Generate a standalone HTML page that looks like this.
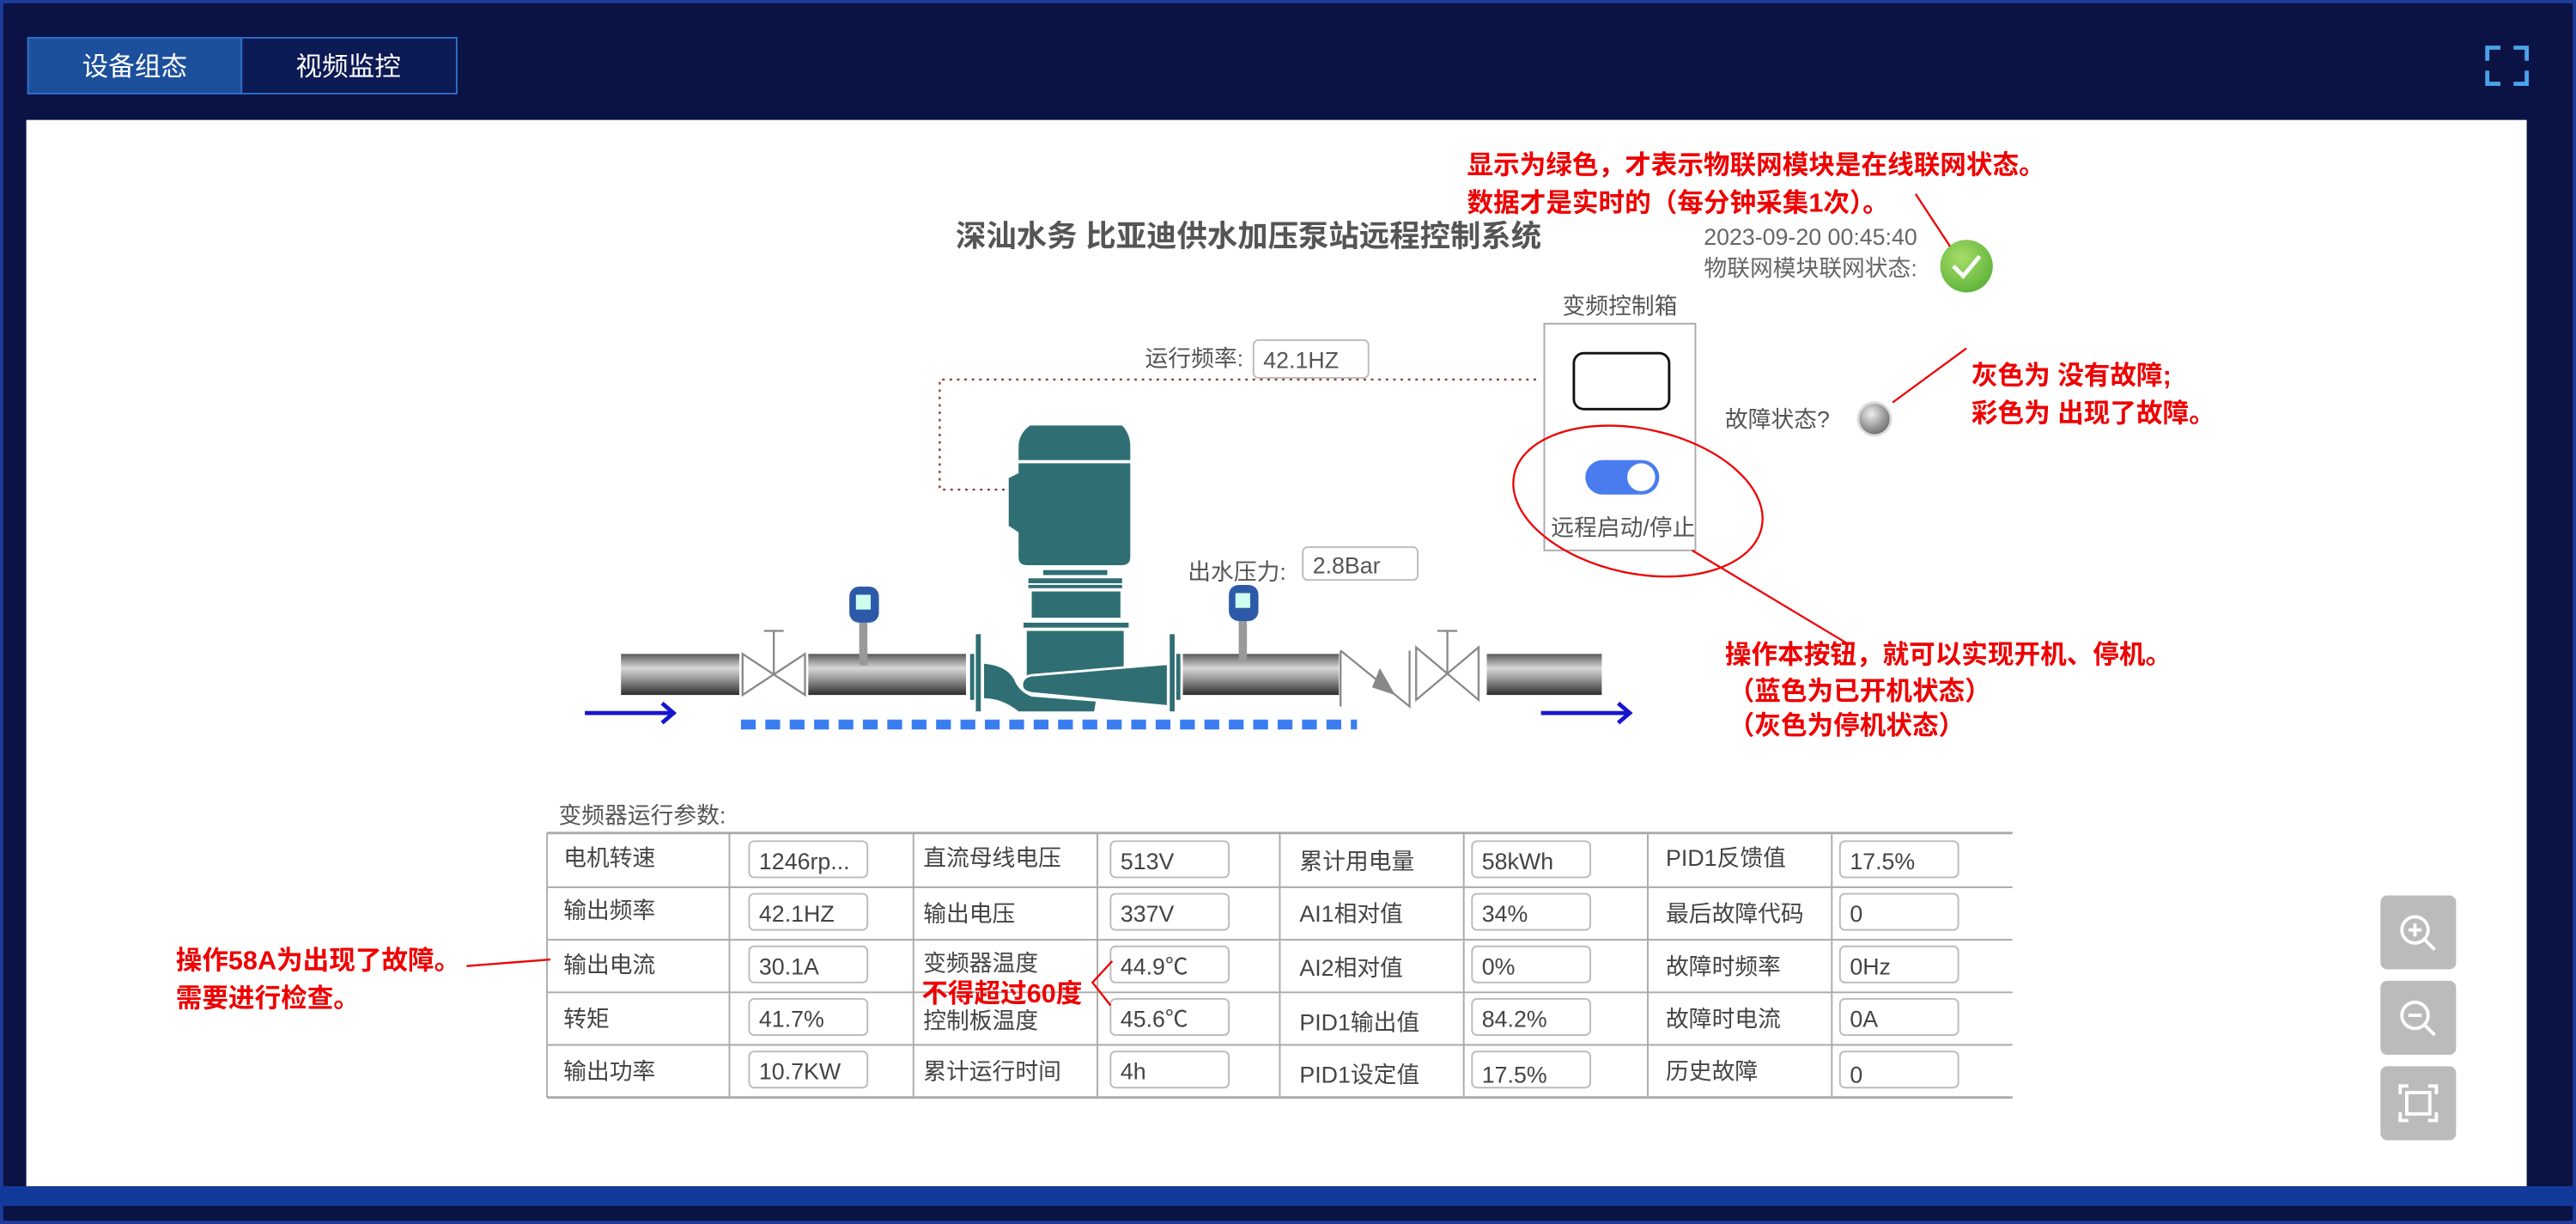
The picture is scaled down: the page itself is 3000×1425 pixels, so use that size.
<!DOCTYPE html>
<html><head><meta charset="utf-8"><style>
html,body{margin:0;padding:0;background:#0a1140;}
svg{display:block;}
text{font-family:"Liberation Sans","Noto Sans CJK SC",sans-serif;}
</style></head><body>
<svg width="3000" height="1425" viewBox="0 0 1568 745" preserveAspectRatio="none" xmlns="http://www.w3.org/2000/svg">
<defs>
<linearGradient id="pipe" x1="0" y1="0" x2="0" y2="1">
<stop offset="0" stop-color="#5a5a5a"/><stop offset="0.35" stop-color="#d8d8d8"/><stop offset="0.6" stop-color="#9a9a9a"/><stop offset="1" stop-color="#2e2e2e"/>
</linearGradient>
<radialGradient id="ball" cx="0.4" cy="0.35" r="0.7"><stop offset="0" stop-color="#eee"/><stop offset="0.6" stop-color="#999"/><stop offset="1" stop-color="#666"/></radialGradient>
<radialGradient id="green" cx="0.4" cy="0.35" r="0.7"><stop offset="0" stop-color="#a8dc6a"/><stop offset="1" stop-color="#5cb338"/></radialGradient>
</defs>
<rect x="0" y="0" width="1568" height="745" fill="#0b1244"/>
<rect x="1" y="1" width="1566" height="743" fill="none" stroke="#1d3c9a" stroke-width="2"/>
<rect x="0" y="722" width="1568" height="12" fill="#123a9a"/>
<rect x="16" y="73" width="1522" height="649" fill="#fff"/>
<!-- tabs -->
<rect x="17" y="23" width="130" height="34" fill="#1c4f9c" stroke="#2f6fc8"/>
<rect x="147" y="23" width="131" height="34" fill="#0c1a55" stroke="#2f6fc8"/>
<text x="82" y="46" fill="#fff" font-size="16" text-anchor="middle">设备组态</text>
<text x="212" y="46" fill="#fff" font-size="16" text-anchor="middle">视频监控</text>
<g stroke="#4aa3e8" stroke-width="2.5" fill="none">
<path d="M1514 37 v-8 h8 M1530 29 h8 v8 M1538 43 v8 h-8 M1522 51 h-8 v-8"/></g>
<!-- title -->
<text x="760" y="150" fill="#555" font-size="18.5" font-weight="bold" text-anchor="middle">深汕水务  比亚迪供水加压泵站远程控制系统</text>
<text x="1167" y="149" fill="#666" font-size="14" text-anchor="end">2023-09-20 00:45:40</text>
<text x="1167" y="168" fill="#666" font-size="14" text-anchor="end">物联网模块联网状态:</text>
<circle cx="1197" cy="162" r="16" fill="url(#green)"/>
<path d="M1189 162 l6 6 l10 -12" stroke="#fff" stroke-width="2.5" fill="none"/>
<text x="893" y="106" fill="#e00" font-size="16" font-weight="bold">显示为绿色，才表示物联网模块是在线联网状态。</text>
<text x="893" y="129" fill="#e00" font-size="16" font-weight="bold">数据才是实时的（每分钟采集1次）。</text>
<line x1="1166" y1="118" x2="1187" y2="150" stroke="#e00" stroke-width="1.2"/>
<!-- control box -->
<text x="986" y="191" fill="#555" font-size="14" text-anchor="middle">变频控制箱</text>
<rect x="940" y="197" width="92" height="138" fill="#fff" stroke="#aaa"/>
<rect x="958" y="215" width="58" height="34" rx="6" fill="#fff" stroke="#111" stroke-width="1.5"/>
<rect x="965" y="280" width="45" height="21" rx="10.5" fill="#4a7cf0"/>
<circle cx="999" cy="290.5" r="8.5" fill="#fff"/>
<text x="988" y="326" fill="#555" font-size="14" text-anchor="middle">远程启动/停止</text>
<ellipse cx="997" cy="305" rx="77" ry="44" fill="none" stroke="#e00" stroke-width="1.2" transform="rotate(12 997 305)"/>
<line x1="1030" y1="335" x2="1125" y2="392" stroke="#e00" stroke-width="1.2"/>
<text x="1050" y="404" fill="#e00" font-size="16" font-weight="bold">操作本按钮，就可以实现开机、停机。</text>
<text x="1052" y="426" fill="#e00" font-size="16" font-weight="bold">（蓝色为已开机状态）</text>
<text x="1052" y="447" fill="#e00" font-size="16" font-weight="bold">（灰色为停机状态）</text>
<!-- fault -->
<text x="1050" y="260" fill="#555" font-size="14">故障状态?</text>
<circle cx="1141" cy="255" r="10" fill="url(#ball)" stroke="#ddd" stroke-width="1.5"/>
<line x1="1152" y1="245" x2="1197" y2="212" stroke="#e00" stroke-width="1.2"/>
<text x="1200" y="234" fill="#e00" font-size="16" font-weight="bold">灰色为 没有故障;</text>
<text x="1200" y="257" fill="#e00" font-size="16" font-weight="bold">彩色为 出现了故障。</text>
<!-- run freq -->
<text x="697" y="223" fill="#555" font-size="14">运行频率:</text>
<rect x="763" y="207" width="70" height="23" rx="3" fill="#fff" stroke="#bbb"/>
<text x="769" y="224" fill="#555" font-size="14">42.1HZ</text>
<path d="M935 231 H572 V298 H617" stroke="#8b3a3a" stroke-width="1.2" stroke-dasharray="1.5 3" fill="none"/>
<text x="723" y="353" fill="#555" font-size="14">出水压力:</text>
<rect x="793" y="333" width="70" height="20" rx="3" fill="#fff" stroke="#bbb"/>
<text x="799" y="349" fill="#555" font-size="14">2.8Bar</text>
<!-- pipes -->
<g fill="url(#pipe)">
<rect x="378" y="398" width="72" height="25"/>
<rect x="492" y="398" width="96" height="25"/>
<rect x="720" y="398" width="95" height="25"/>
<rect x="905" y="398" width="70" height="25"/>
</g>
<g stroke="#888" stroke-width="1.2" fill="none">
<path d="M452 398 L490 423 V398 L452 423 Z"/><path d="M471 410 V384 M465 384 h12"/>
<path d="M816 396 V430 M816 396 L858 430 V396"/><path d="M840 408 l8 14 l-12 -4z" fill="#888"/>
<path d="M862 394 L900 426 V394 L862 426 Z"/><path d="M881 410 V384 M875 384 h12"/>
</g>
<!-- pump -->
<g fill="#2f6f73">
<path d="M627 259 H683 Q688 264 688 272 V280 H620 V272 Q620 264 627 259Z"/>
<path d="M620 282 H688 V339 Q688 344 683 344 H625 Q620 344 620 339 V324 L614 320 V291 L620 288Z"/>
<rect x="635" y="347" width="39" height="3"/><rect x="626" y="352" width="57" height="3"/><rect x="626" y="356" width="57" height="2"/>
<rect x="628" y="360" width="54" height="16"/><rect x="623" y="379" width="64" height="3"/>
<path d="M625 384 H684 V406 L625 413 Z"/>
<path d="M599 404 Q612 405 617 413 Q620 421 628 424 L667 427 L666 433 H620 Q610 425 599 425 Z"/>
<path d="M622 417 Q622 412 628 411 L711 404 V430 L628 422 Q622 421 622 417 Z" stroke="#fff" stroke-width="1.5"/>
<rect x="594" y="386" width="3" height="47"/><rect x="590.5" y="398" width="2.5" height="28"/>
<rect x="712" y="386" width="3" height="47"/><rect x="716" y="398" width="2.5" height="28"/>
</g>
<!-- sensors -->
<g>
<rect x="523" y="377" width="5" height="28" fill="#999"/><rect x="517" y="357" width="18" height="22" rx="6" fill="#2d5aa8"/><rect x="521" y="362" width="9" height="9" fill="#cfe"/>
<rect x="754" y="377" width="5" height="26" fill="#999"/><rect x="748" y="356" width="18" height="22" rx="6" fill="#2d5aa8"/><rect x="752" y="361" width="9" height="9" fill="#cfe"/>
</g>
<!-- arrows -->
<g stroke="#1515d0" stroke-width="2.5" fill="none">
<path d="M356 434 H410 M403 428 L410 434 L403 440"/>
<path d="M938 434 H992 M985 428 L992 434 L985 440"/>
</g>
<line x1="451" y1="441" x2="826" y2="441" stroke="#3a7df0" stroke-width="6" stroke-dasharray="9 5.85"/>
<!-- table -->
<text x="340" y="501" fill="#555" font-size="14">变频器运行参数:</text>
<g stroke="#aaa" stroke-width="1">
<line x1="333" y1="507" x2="1225" y2="507" stroke-width="1.5"/><line x1="333" y1="540" x2="1225" y2="540"/><line x1="333" y1="572" x2="1225" y2="572"/><line x1="333" y1="604" x2="1225" y2="604"/><line x1="333" y1="636" x2="1225" y2="636"/><line x1="333" y1="668" x2="1225" y2="668" stroke-width="1.5"/>
<line x1="333" y1="507" x2="333" y2="668"/><line x1="444" y1="507" x2="444" y2="668"/><line x1="556" y1="507" x2="556" y2="668"/><line x1="668" y1="507" x2="668" y2="668"/><line x1="779" y1="507" x2="779" y2="668"/><line x1="891" y1="507" x2="891" y2="668"/><line x1="1003" y1="507" x2="1003" y2="668"/><line x1="1115" y1="507" x2="1115" y2="668"/>
</g>
<g fill="#fff" stroke="#bbb">
<rect x="456" y="512" width="72" height="22" rx="3"/><rect x="676" y="512" width="72" height="22" rx="3"/><rect x="896" y="512" width="72" height="22" rx="3"/><rect x="1120" y="512" width="72" height="22" rx="3"/>
<rect x="456" y="544" width="72" height="22" rx="3"/><rect x="676" y="544" width="72" height="22" rx="3"/><rect x="896" y="544" width="72" height="22" rx="3"/><rect x="1120" y="544" width="72" height="22" rx="3"/>
<rect x="456" y="576" width="72" height="22" rx="3"/><rect x="676" y="576" width="72" height="22" rx="3"/><rect x="896" y="576" width="72" height="22" rx="3"/><rect x="1120" y="576" width="72" height="22" rx="3"/>
<rect x="456" y="608" width="72" height="22" rx="3"/><rect x="676" y="608" width="72" height="22" rx="3"/><rect x="896" y="608" width="72" height="22" rx="3"/><rect x="1120" y="608" width="72" height="22" rx="3"/>
<rect x="456" y="640" width="72" height="22" rx="3"/><rect x="676" y="640" width="72" height="22" rx="3"/><rect x="896" y="640" width="72" height="22" rx="3"/><rect x="1120" y="640" width="72" height="22" rx="3"/>
</g>
<g fill="#444" font-size="14">
<text x="343" y="527">电机转速</text><text x="462" y="529">1246rp...</text><text x="562" y="527">直流母线电压</text><text x="682" y="529">513V</text><text x="791" y="529">累计用电量</text><text x="902" y="529">58kWh</text><text x="1014" y="527">PID1反馈值</text><text x="1126" y="529">17.5%</text>
<text x="343" y="559">输出频率</text><text x="462" y="561">42.1HZ</text><text x="562" y="561">输出电压</text><text x="682" y="561">337V</text><text x="791" y="561">AI1相对值</text><text x="902" y="561">34%</text><text x="1014" y="561">最后故障代码</text><text x="1126" y="561">0</text>
<text x="343" y="592">输出电流</text><text x="462" y="593">30.1A</text><text x="562" y="591">变频器温度</text><text x="682" y="593">44.9℃</text><text x="791" y="594">AI2相对值</text><text x="902" y="593">0%</text><text x="1014" y="593">故障时频率</text><text x="1126" y="593">0Hz</text>
<text x="343" y="625">转矩</text><text x="462" y="625">41.7%</text><text x="562" y="626">控制板温度</text><text x="682" y="625">45.6℃</text><text x="791" y="627">PID1输出值</text><text x="902" y="625">84.2%</text><text x="1014" y="625">故障时电流</text><text x="1126" y="625">0A</text>
<text x="343" y="657">输出功率</text><text x="462" y="657">10.7KW</text><text x="562" y="657">累计运行时间</text><text x="682" y="657">4h</text><text x="791" y="659">PID1设定值</text><text x="902" y="659">17.5%</text><text x="1014" y="657">历史故障</text><text x="1126" y="659">0</text>
</g>
<text x="107" y="590" fill="#e00" font-size="16" font-weight="bold">操作58A为出现了故障。</text>
<text x="107" y="613" fill="#e00" font-size="16" font-weight="bold">需要进行检查。</text>
<line x1="284" y1="588" x2="335" y2="584" stroke="#e00" stroke-width="1.2"/>
<text x="561" y="610" fill="#e00" font-size="16" font-weight="bold">不得超过60度</text>
<path d="M677 585 L665 598 L676 612" stroke="#e00" stroke-width="1.2" fill="none"/>
<!-- zoom buttons -->
<g fill="#bbbbbb"><rect x="1449" y="545" width="46" height="45" rx="4"/><rect x="1449" y="597" width="46" height="45" rx="4"/><rect x="1449" y="649" width="46" height="45" rx="4"/></g>
<g stroke="#fff" stroke-width="2" fill="none">
<circle cx="1470" cy="566" r="8"/><path d="M1476 572 l6 6 M1466 566 h8 M1470 562 v8"/>
<circle cx="1470" cy="618" r="8"/><path d="M1476 624 l6 6 M1466 618 h8"/>
<path d="M1461 666 v-5 h5 M1478 661 h5 v5 M1483 677 v5 h-5 M1466 682 h-5 v-5"/><rect x="1465" y="665" width="14" height="13"/>
</g>
</svg>
</body></html>
